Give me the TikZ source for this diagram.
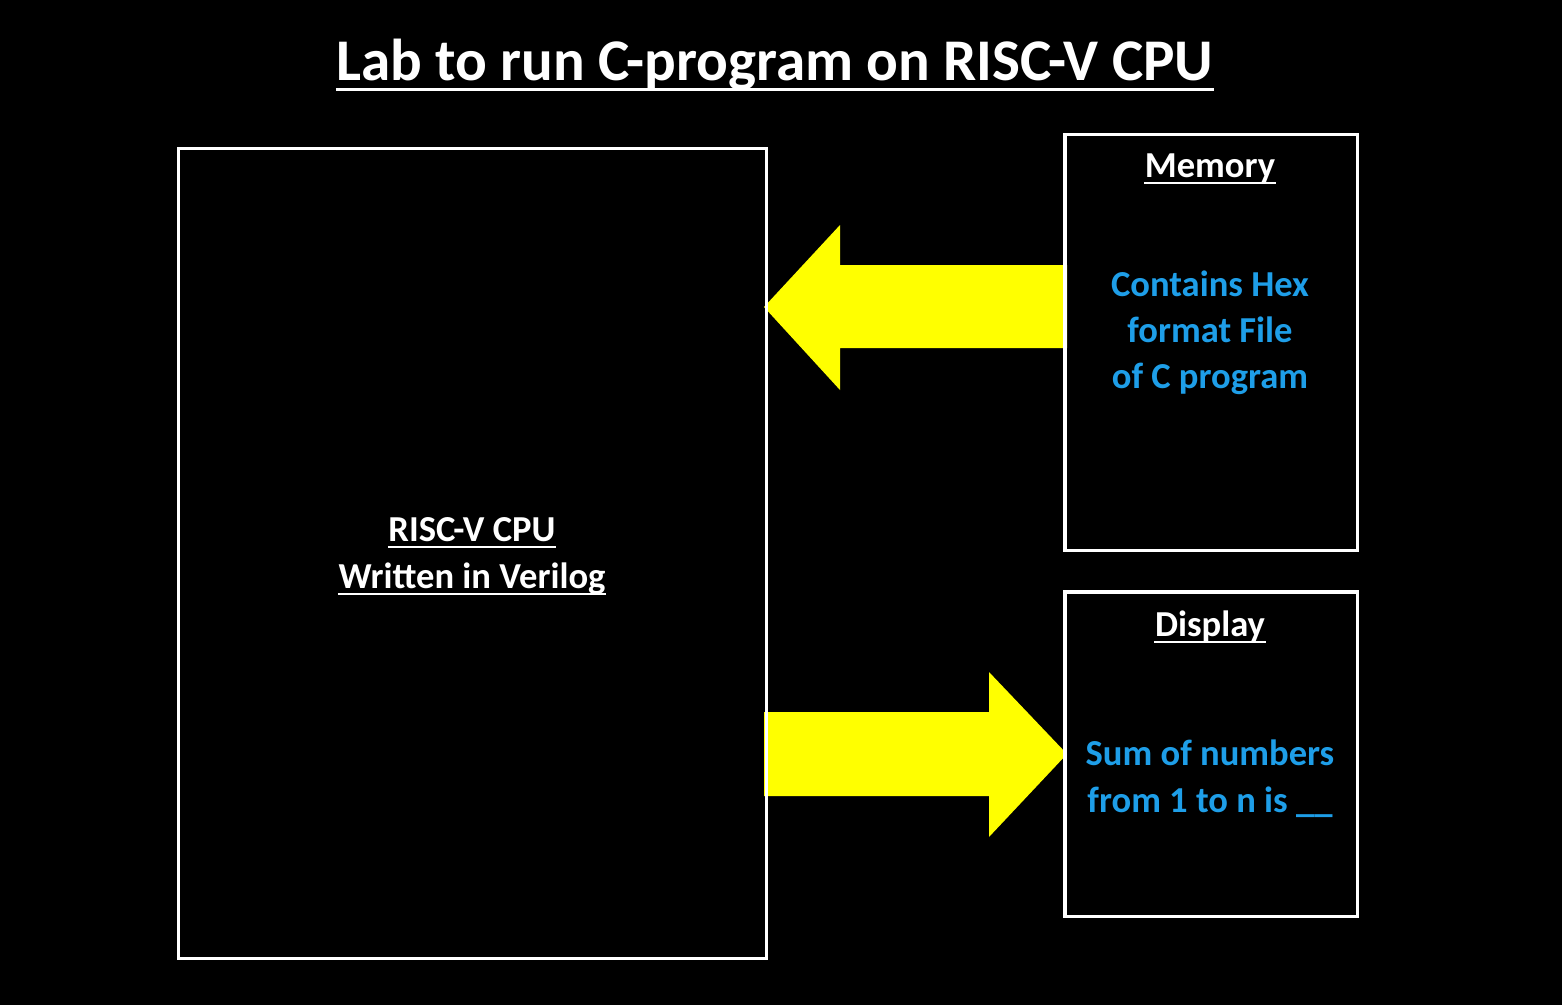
\documentclass[tikz,border=0pt]{standalone}
\usepackage{fontspec}
\setmainfont{Carlito}
\definecolor{hexblue}{RGB}{30,158,232}
\definecolor{arrowyellow}{RGB}{255,255,0}
\newcommand\underl[3]{\draw[white,line width=#2] ([yshift=-#3]#1.base west) -- ([yshift=-#3]#1.base east);}
\begin{document}
\begin{tikzpicture}[x=0.01cm,y=-0.01cm,
  box/.style={draw=white,line width=0.9pt,fill=none,rectangle,inner sep=0pt},
  headtext/.style={text=white,font=\bfseries\fontsize{10.4}{12.5}\selectfont,anchor=base,inner sep=0pt},
  bluetext/.style={text=hexblue,font=\bfseries\fontsize{10.4}{12.5}\selectfont,anchor=base,inner sep=0pt},
  bigarrow/.style={fill=arrowyellow,draw=none}]
\fill[black] (0,0) rectangle (1562,1005);
\useasboundingbox (0,0) rectangle (1562,1005);

% title
\node[text=white,font=\bfseries\fontsize{16.8}{20}\selectfont,anchor=base,inner sep=0pt] (title) at (775,80)
  {Lab to run C-program on RISC-V CPU};
\underl{title}{0.85pt}{2.6pt}

% arrows
\fill[bigarrow] (1067,265) -- (840,265) -- (840,225) -- (764,307) -- (840,390) -- (840,348) -- (1067,348) -- cycle;
\fill[bigarrow] (764,712) -- (989,712) -- (989,672) -- (1067,754) -- (989,837) -- (989,796) -- (764,796) -- cycle;

% boxes
\node[box,minimum width=5.87cm,minimum height=8.09cm] (cpu) at (472.5,553.5) {};
\node[box,minimum width=2.92cm,minimum height=4.15cm] (mem) at (1211,342.5) {};
\node[box,minimum width=2.92cm,minimum height=3.24cm] (disp) at (1211,754) {};

% cpu text
\node[headtext] (cpu1) at (472,541) {RISC-V CPU};
\underl{cpu1}{0.6pt}{1.7pt}
\node[headtext] (cpu2) at (472,588) {Written in Verilog};
\underl{cpu2}{0.6pt}{1.7pt}

% memory text
\node[headtext] (memt) at (1210,177) {Memory};
\underl{memt}{0.6pt}{1.7pt}
\node[bluetext] (mem1) at (1210,296) {Contains Hex};
\node[bluetext] (mem2) at (1210,342) {format File};
\node[bluetext] (mem3) at (1210,388) {of C program};

% display text
\node[headtext] (dispt) at (1210,636) {Display};
\underl{dispt}{0.6pt}{1.7pt}
\node[bluetext] (disp1) at (1210,765) {Sum of numbers};
\node[bluetext] (disp2) at (1210,812) {from 1 to n is \_\_};
\end{tikzpicture}
\end{document}
